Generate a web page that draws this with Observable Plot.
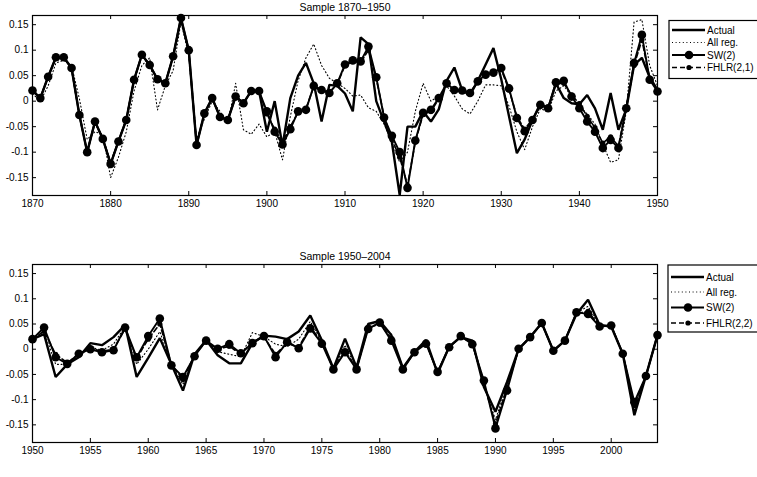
<!DOCTYPE html>
<html>
<head>
<meta charset="utf-8">
<script src="https://cdn.jsdelivr.net/npm/d3@7"></script>
<script src="https://cdn.jsdelivr.net/npm/@observablehq/plot@0.6"></script>
<style>
  html, body { margin: 0; padding: 0; background: #fff; }
  #page { position: relative; width: 757px; height: 477px; overflow: hidden; background: #fff; }
  .panel { position: absolute; left: 0; }
  #overlay { position: absolute; left: 0; top: 0; }
</style>
</head>
<body>
<div id="page">
  <div id="top" class="panel" style="top:0px"></div>
  <div id="bottom" class="panel" style="top:249px"></div>
  <svg id="overlay" width="757" height="477"></svg>
</div>
<script>
// ---- Sample 1870–1950 -------------------------------------------------
const yearsA = d3.range(1870, 1951);
const actualA = [
  0.021, 0.006, 0.048, 0.086, 0.086, 0.065, -0.027, -0.1, -0.04, -0.074,
  -0.123, -0.079, -0.037, 0.042, 0.091, 0.071, 0.043, 0.035, 0.088, 0.163,
  0.1, -0.086, -0.024, 0.006, -0.031, -0.037, 0.009, -0.004, 0.02, 0.02,
  -0.06, 0.0, -0.088, 0.006, 0.05, 0.075, 0.035, -0.04, 0.032, 0.03,
  0.015, -0.02, 0.125, 0.112, 0.0, -0.04, -0.08, -0.184, -0.05, -0.05,
  -0.02, -0.04, -0.016, 0.04, 0.066, 0.021, 0.012, 0.04, 0.072, 0.104,
  0.043, -0.03, -0.102, -0.075, -0.037, -0.005, -0.014, 0.035, 0.006, -0.004,
  -0.006, 0.012, -0.014, -0.056, 0.016, -0.056, -0.016, 0.071, 0.085, 0.047,
  0.022
];
const allRegA = [
  0.015, 0.0, 0.03, 0.075, 0.08, 0.07, 0.005, -0.075, -0.06, -0.065,
  -0.15, -0.11, -0.06, 0.02, 0.07, 0.085, -0.017, 0.03, 0.06, 0.155,
  0.09, -0.075, -0.035, 0.0, -0.02, -0.045, 0.035, -0.056, -0.065, -0.045,
  -0.07, -0.06, -0.115, -0.03, 0.04, 0.085, 0.112, 0.07, 0.045, 0.035,
  0.025, 0.01, 0.012, -0.013, -0.02, -0.045, -0.08, -0.12, -0.1, -0.02,
  0.035, 0.0, 0.01, 0.03, 0.01, -0.015, -0.025, 0.0, 0.032, 0.032,
  0.03, -0.01, -0.06, -0.095, -0.05, -0.015, -0.02, 0.02, 0.03, 0.01,
  -0.01, -0.025, -0.045, -0.085, -0.12, -0.115, -0.02, 0.155, 0.16, 0.07,
  0.03
];
const swA = [
  0.021, 0.006, 0.048, 0.086, 0.086, 0.065, -0.027, -0.1, -0.04, -0.074,
  -0.123, -0.079, -0.037, 0.042, 0.091, 0.071, 0.043, 0.035, 0.088, 0.163,
  0.1, -0.086, -0.024, 0.006, -0.031, -0.037, 0.009, -0.004, 0.02, 0.02,
  -0.02, -0.06, -0.085, -0.055, -0.02, -0.017, 0.03, 0.022, 0.016, 0.035,
  0.072, 0.08, 0.078, 0.107, 0.047, -0.032, -0.068, -0.1, -0.17, -0.077,
  -0.023, -0.017, 0.006, 0.035, 0.022, 0.021, 0.016, 0.039, 0.052, 0.056,
  0.065, 0.025, -0.033, -0.059, -0.037, -0.007, -0.014, 0.037, 0.04, 0.009,
  -0.014, -0.04, -0.06, -0.092, -0.076, -0.092, -0.014, 0.075, 0.13, 0.042,
  0.019
];
const fhlrA = [
  0.02, 0.006, 0.047, 0.085, 0.085, 0.064, -0.027, -0.099, -0.041, -0.073,
  -0.121, -0.078, -0.036, 0.041, 0.09, 0.07, 0.042, 0.035, 0.087, 0.16,
  0.098, -0.084, -0.025, 0.005, -0.03, -0.036, 0.01, -0.004, 0.019, 0.02,
  -0.025, -0.055, -0.08, -0.05, -0.022, -0.015, 0.028, 0.02, 0.018, 0.033,
  0.07, 0.078, 0.076, 0.1, 0.045, -0.03, -0.075, -0.11, -0.165, -0.08,
  -0.026, -0.02, 0.004, 0.032, 0.02, 0.02, 0.018, 0.036, 0.05, 0.058,
  0.062, 0.022, -0.03, -0.055, -0.035, -0.01, -0.012, 0.034, 0.035, 0.012,
  -0.005, -0.03, -0.052, -0.082, -0.07, -0.088, -0.012, 0.07, 0.12, 0.045,
  0.02
];

// ---- Sample 1950–2004 -------------------------------------------------
const yearsB = d3.range(1950, 2005);
const actualB = [
  0.02, 0.03, -0.055, -0.03, -0.016, 0.012, 0.008, 0.024, 0.048, -0.055,
  -0.017, 0.022, -0.03, -0.082, -0.01, 0.018, -0.012, -0.028, -0.028, 0.012,
  0.027, 0.025, 0.02, 0.035, 0.067, 0.018, -0.038, 0.021, -0.036, 0.05,
  0.056, 0.028, -0.037, -0.005, 0.018, -0.048, 0.005, 0.024, 0.017, -0.075,
  -0.124, -0.065, 0.0, 0.024, 0.052, -0.003, 0.017, 0.07, 0.098, 0.048,
  0.045, -0.009, -0.131, -0.053, 0.028
];
const allRegB = [
  0.02, 0.035, -0.03, -0.03, -0.012, 0.004, -0.002, 0.01, 0.045, -0.03,
  0.0, 0.035, -0.03, -0.07, -0.012, 0.017, -0.005, -0.01, -0.015, 0.033,
  0.025, 0.01, 0.005, 0.02, 0.055, 0.015, -0.04, 0.008, -0.04, 0.045,
  0.05, 0.03, -0.038, -0.005, 0.015, -0.047, 0.004, 0.025, 0.012, -0.07,
  -0.14, -0.07, 0.0, 0.024, 0.052, -0.003, 0.017, 0.072, 0.085, 0.046,
  0.046, -0.009, -0.12, -0.053, 0.028
];
const swB = [
  0.02, 0.043, -0.016, -0.029, -0.009, 0.0, -0.006, -0.002, 0.043, -0.016,
  0.026, 0.061, -0.032, -0.055, -0.014, 0.017, 0.001, 0.01, -0.008, 0.012,
  0.026, -0.016, 0.014, 0.002, 0.041, 0.011, -0.04, -0.006, -0.04, 0.04,
  0.053, 0.017, -0.04, -0.006, 0.011, -0.045, 0.004, 0.026, 0.01, -0.062,
  -0.157, -0.082, 0.001, 0.024, 0.052, -0.003, 0.017, 0.073, 0.07, 0.045,
  0.047, -0.009, -0.105, -0.053, 0.028
];
const fhlrB = [
  0.02, 0.036, -0.01, -0.027, -0.01, 0.002, -0.004, 0.0, 0.04, -0.018,
  0.02, 0.05, -0.03, -0.06, -0.012, 0.016, 0.0, 0.006, -0.01, 0.015,
  0.024, -0.01, 0.012, 0.004, 0.045, 0.013, -0.038, -0.004, -0.038, 0.042,
  0.05, 0.022, -0.038, -0.006, 0.013, -0.046, 0.004, 0.025, 0.012, -0.068,
  -0.148, -0.076, 0.0, 0.024, 0.051, -0.003, 0.017, 0.071, 0.075, 0.046,
  0.046, -0.009, -0.112, -0.053, 0.028
];

const yTicks = [-0.15, -0.1, -0.05, 0, 0.05, 0.1, 0.15];
const xTicksA = d3.range(1870, 1951, 10);
const xTicksB = d3.range(1950, 2001, 5);
const yDomain = [-0.185, 0.168];

const legendLabelsA = ["Actual", "All reg.", "SW(2)", "FHLR(2,1)"];
const legendLabelsB = ["Actual", "All reg.", "SW(2)", "FHLR(2,2)"];

const FONT = "'Liberation Sans', Arial, Helvetica, sans-serif";

function rows(years, a, r, s, f) {
  return years.map((year, i) => ({year, actual: a[i], allReg: r[i], sw: s[i], fhlr: f[i]}));
}

function panel({title, data, xDomain, xTicks, height}) {
  const W = 757, mL = 32, mR = 100, mT = 15, mB = 20;
  const plotW = W - mL - mR, plotH = height - mT - mB, tick = 4;
  return Plot.plot({
    width: W, height,
    marginLeft: mL, marginRight: mR, marginTop: mT, marginBottom: mB,
    style: {fontFamily: FONT, fontSize: "10px", color: "#000", background: "#fff", overflow: "visible"},
    x: {domain: xDomain},
    y: {domain: yDomain},
    marks: [
      // inward tick marks on all four sides of the box
      Plot.tickX(xTicks, {x: d => d, stroke: "#000", strokeWidth: 1, insetTop: plotH - tick}),
      Plot.tickX(xTicks, {x: d => d, stroke: "#000", strokeWidth: 1, insetBottom: plotH - tick}),
      Plot.tickY(yTicks, {y: d => d, stroke: "#000", strokeWidth: 1, insetRight: plotW - tick}),
      Plot.tickY(yTicks, {y: d => d, stroke: "#000", strokeWidth: 1, insetLeft: plotW - tick}),
      Plot.axisX(xTicks, {tickSize: 0, tickPadding: 4, tickFormat: d => String(d), fontSize: 10, label: null}),
      Plot.axisY(yTicks, {tickSize: 0, tickPadding: 4, tickFormat: d => String(d), fontSize: 10, label: null}),
      // series
      Plot.line(data, {x: "year", y: "allReg", stroke: "#000", strokeWidth: 1.1, strokeDasharray: "1,2.6", strokeLinecap: "round"}),
      Plot.line(data, {x: "year", y: "fhlr", stroke: "#000", strokeWidth: 1.6, strokeDasharray: "5,3"}),
      Plot.dot(data, {x: "year", y: "fhlr", r: 2.6, fill: "#000", stroke: "none"}),
      Plot.line(data, {x: "year", y: "actual", stroke: "#000", strokeWidth: 2.4, strokeLinejoin: "miter"}),
      Plot.line(data, {x: "year", y: "sw", stroke: "#000", strokeWidth: 1.9}),
      Plot.dot(data, {x: "year", y: "sw", r: 4.3, fill: "#000", stroke: "none"}),
      Plot.frame({stroke: "#000", strokeWidth: 1.2}),
      Plot.text([title], {text: d => d, frameAnchor: "top", dy: -12, fontSize: 10.5, fill: "#000"})
    ]
  });
}

document.getElementById("top").append(panel({
  title: "Sample 1870\u20131950",
  data: rows(yearsA, actualA, allRegA, swA, fhlrA),
  xDomain: [1870, 1950], xTicks: xTicksA, height: 215
}));
document.getElementById("bottom").append(panel({
  title: "Sample 1950\u20132004",
  data: rows(yearsB, actualB, allRegB, swB, fhlrB),
  xDomain: [1950, 2004], xTicks: xTicksB, height: 213
}));

// ---- legends ----------------------------------------------------------
const overlay = d3.select("#overlay");
function legend(labels, x, y, h, rowYs) {
  const g = overlay.append("g").attr("font-family", FONT).attr("font-size", 10);
  g.append("rect").attr("x", x).attr("y", y).attr("width", 120).attr("height", h)
    .attr("fill", "#fff").attr("stroke", "#000").attr("stroke-width", 1.2);
  const styles = [
    {w: 2.4, dash: null, r: 0},
    {w: 1.1, dash: "1,2.6", r: 0},
    {w: 1.9, dash: null, r: 4.3},
    {w: 1.6, dash: "5,3", r: 2.6}
  ];
  labels.forEach((lab, i) => {
    const yy = rowYs[i], s = styles[i];
    g.append("line").attr("x1", x + 3).attr("x2", x + 36).attr("y1", yy).attr("y2", yy)
      .attr("stroke", "#000").attr("stroke-width", s.w).attr("stroke-dasharray", s.dash);
    if (s.r) g.append("circle").attr("cx", x + 20).attr("cy", yy).attr("r", s.r).attr("fill", "#000");
    g.append("text").attr("x", x + 38).attr("y", yy).attr("dy", "0.36em").attr("fill", "#000").text(lab);
  });
}
legend(legendLabelsA, 669, 20.5, 58, [30, 42.5, 55, 67.5]);
legend(legendLabelsB, 668, 265, 67, [277, 292, 307.5, 323]);
</script>
</body>
</html>
